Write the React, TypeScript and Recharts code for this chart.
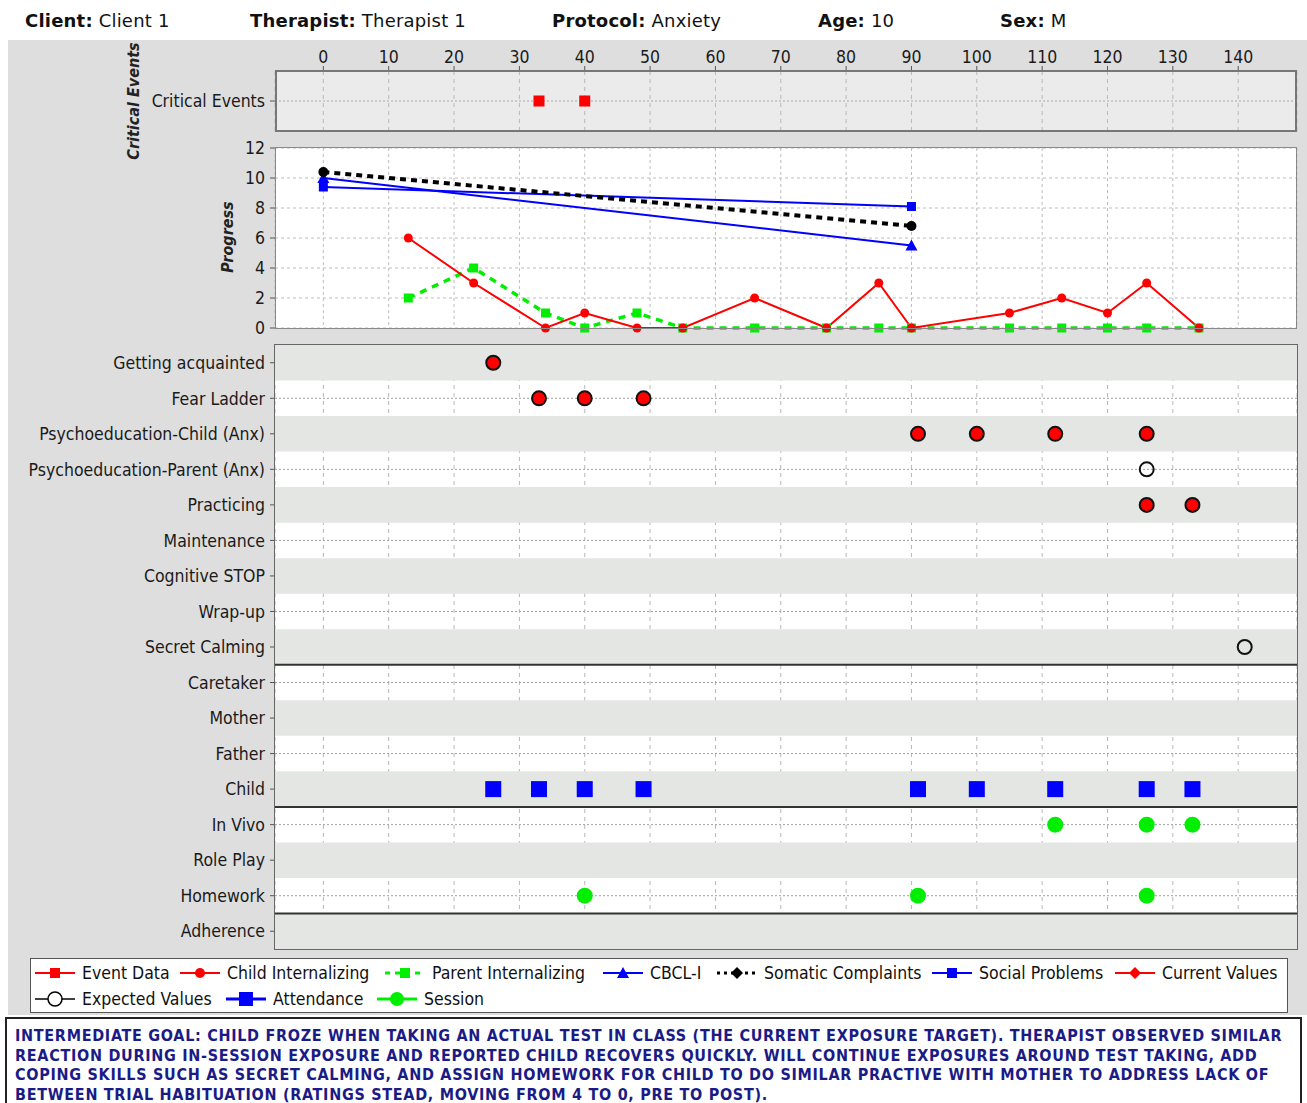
import React from 'react'
import { ScatterChart, Scatter, ComposedChart, Line, XAxis, YAxis, CartesianGrid, ReferenceArea, ReferenceLine } from 'recharts'

const FONT = '"DejaVu Sans Condensed", "DejaVu Sans", sans-serif'
const HEAD_FONT = '"DejaVu Sans", Verdana, sans-serif'

const X_TICKS = [0, 10, 20, 30, 40, 50, 60, 70, 80, 90, 100, 110, 120, 130, 140]
const X_DOMAIN = [-7.4, 149]

// critical events (day)
const CRITICAL_DAYS = [33, 40]

// progress measures
const SESSION_DAYS = [13, 23, 34, 40, 48, 55, 66, 77, 85, 90, 105, 113, 120, 126, 134]
const CHILD_INT = [6, 3, 0, 1, 0, 0, 2, 0, 3, 0, 1, 2, 1, 3, 0]
const PARENT_INT = [2, 4, 1, 0, 1, 0, 0, 0, 0, 0, 0, 0, 0, 0, 0]
const CBCL_DAYS = [0, 90]
const CBCL_I = [10, 5.5]
const SOMATIC = [10.4, 6.8]
const SOCIAL = [9.4, 8.1]
const PROGRESS_TICKS = [0, 2, 4, 6, 8, 10, 12]

// module / attendance / session rows
const ROWS = [
  'Getting acquainted', 'Fear Ladder', 'Psychoeducation-Child (Anx)', 'Psychoeducation-Parent (Anx)',
  'Practicing', 'Maintenance', 'Cognitive STOP', 'Wrap-up', 'Secret Calming',
  'Caretaker', 'Mother', 'Father', 'Child',
  'In Vivo', 'Role Play', 'Homework',
  'Adherence',
]
const SHADED_ROWS = [0, 2, 4, 6, 8, 10, 12, 14, 16]
const GROUP_BREAKS = [8.5, 12.5, 15.5]

const CURRENT_DAYS = [26, 33, 40, 49, 91, 100, 112, 126, 126, 133]
const CURRENT_ROWS = ['Getting acquainted', 'Fear Ladder', 'Fear Ladder', 'Fear Ladder',
  'Psychoeducation-Child (Anx)', 'Psychoeducation-Child (Anx)', 'Psychoeducation-Child (Anx)', 'Psychoeducation-Child (Anx)',
  'Practicing', 'Practicing']
const EXPECTED_DAYS = [126, 141]
const EXPECTED_ROWS = ['Psychoeducation-Parent (Anx)', 'Secret Calming']
const ATTEND_DAYS = [26, 33, 40, 49, 91, 100, 112, 126, 133]
const SESSION_MARK_DAYS = [112, 126, 133, 40, 91, 126]
const SESSION_MARK_ROWS = ['In Vivo', 'In Vivo', 'In Vivo', 'Homework', 'Homework', 'Homework']

const pts = (xs: number[], ys: number[]) => xs.map((x, i) => ({ x, y: ys[i] }))
const rowPts = (xs: number[], rows: string[]) => xs.map((x, i) => ({ x, y: ROWS.indexOf(rows[i]) }))

const RED = '#ff0000'
const GREEN = '#00ee00'
const BLUE = '#0000ff'

const tickStyle = { fontSize: 17.5, fill: '#1a1a1a', fontFamily: FONT }

const sq = (size: number, fill: string) => (p: any) =>
  <rect key={p.index} x={p.cx - size / 2} y={p.cy - size / 2} width={size} height={size} fill={fill} />
const circ = (r: number, fill: string, stroke?: string, sw = 1.5) => (p: any) =>
  <circle key={p.index} cx={p.cx} cy={p.cy} r={r} fill={fill} stroke={stroke || 'none'} strokeWidth={sw} />
const tri = (p: any) =>
  <polygon key={p.index} points={`${p.cx},${p.cy - 6} ${p.cx - 6},${p.cy + 5} ${p.cx + 6},${p.cy + 5}`} fill={BLUE} />

function Border({ left, top, width, height, color = '#808080', w = 1 }: any) {
  return <div style={{ position: 'absolute', left, top, width, height, border: `${w}px solid ${color}`, boxSizing: 'border-box', pointerEvents: 'none' }} />
}

function LegendIcon({ kind }: { kind: string }) {
  const line = (stroke: string, dash?: string, w = 2) =>
    <line x1={1} y1={10} x2={41} y2={10} stroke={stroke} strokeWidth={w} strokeDasharray={dash} />
  let body: React.ReactNode = null
  if (kind === 'event') body = <>{line(RED)}<rect x={16} y={5} width={10} height={10} fill={RED} /></>
  if (kind === 'child') body = <>{line(RED)}<circle cx={21} cy={10} r={5} fill={RED} /></>
  if (kind === 'parent') body = <>{line(GREEN, '5 5', 3)}<rect x={16} y={5} width={10} height={10} fill={GREEN} /></>
  if (kind === 'cbcl') body = <>{line(BLUE)}<polygon points="21,4 15,15 27,15" fill={BLUE} /></>
  if (kind === 'somatic') body = <>{line('#000', '3 4', 3)}<polygon points="21,4 27,10 21,16 15,10" fill="#000" /></>
  if (kind === 'social') body = <>{line(BLUE)}<rect x={16} y={5} width={10} height={10} fill={BLUE} /></>
  if (kind === 'current') body = <>{line(RED)}<polygon points="21,4 27,10 21,16 15,10" fill={RED} /></>
  if (kind === 'expected') body = <>{line('#000', undefined, 1.5)}<circle cx={21} cy={10} r={7} fill="#fff" stroke="#000" strokeWidth={1.5} /></>
  if (kind === 'attend') body = <>{line(BLUE, undefined, 3)}<rect x={14} y={3} width={14} height={14} fill={BLUE} /></>
  if (kind === 'session') body = <>{line(GREEN, undefined, 3)}<circle cx={21} cy={10} r={7} fill={GREEN} /></>
  return <svg width={42} height={20} style={{ position: 'absolute', left: 0, top: 0 }}>{body}</svg>
}

const LEGEND_ITEMS = [
  { label: 'Event Data', kind: 'event', left: 34, top: 963 },
  { label: 'Child Internalizing', kind: 'child', left: 179, top: 963 },
  { label: 'Parent Internalizing', kind: 'parent', left: 384, top: 963 },
  { label: 'CBCL-I', kind: 'cbcl', left: 602, top: 963 },
  { label: 'Somatic Complaints', kind: 'somatic', left: 716, top: 963 },
  { label: 'Social Problems', kind: 'social', left: 931, top: 963 },
  { label: 'Current Values', kind: 'current', left: 1114, top: 963 },
  { label: 'Expected Values', kind: 'expected', left: 34, top: 989 },
  { label: 'Attendance', kind: 'attend', left: 225, top: 989 },
  { label: 'Session', kind: 'session', left: 376, top: 989 },
]

const HEADER = [
  { k: 'Client:', v: 'Client 1', left: 25 },
  { k: 'Therapist:', v: 'Therapist 1', left: 250 },
  { k: 'Protocol:', v: 'Anxiety', left: 552 },
  { k: 'Age:', v: '10', left: 818 },
  { k: 'Sex:', v: 'M', left: 1000 },
]

const NOTE = [
  'INTERMEDIATE GOAL: CHILD FROZE WHEN TAKING AN ACTUAL TEST IN CLASS (THE CURRENT EXPOSURE TARGET). THERAPIST OBSERVED SIMILAR',
  'REACTION DURING IN-SESSION EXPOSURE AND REPORTED CHILD RECOVERS QUICKLY. WILL CONTINUE EXPOSURES AROUND TEST TAKING, ADD',
  'COPING SKILLS SUCH AS SECRET CALMING, AND ASSIGN HOMEWORK FOR CHILD TO DO SIMILAR PRACTIVE WITH MOTHER TO ADDRESS LACK OF',
  'BETWEEN TRIAL HABITUATION (RATINGS STEAD, MOVING FROM 4 TO 0, PRE TO POST).',
]

export default function App() {
  const W = 1307
  const rotLabel = { position: 'absolute' as const, width: 140, height: 22, transform: 'rotate(-90deg)', textAlign: 'center' as const, fontWeight: 'bold', fontStyle: 'italic', fontSize: 16, color: '#222', lineHeight: '22px', whiteSpace: 'nowrap' as const }
  return (
    <div style={{ position: 'relative', width: W, height: 1103, background: '#fff', fontFamily: FONT, overflow: 'hidden' }}>
      <style>{'body{margin:0}'}</style>

      {HEADER.map(h => (
        <div key={h.k} style={{ position: 'absolute', left: h.left, top: 10, fontFamily: HEAD_FONT, fontSize: 18, letterSpacing: 0.2, color: '#111', whiteSpace: 'nowrap' }}>
          <b>{h.k}</b> {h.v}
        </div>
      ))}

      <div style={{ position: 'absolute', left: 8, top: 40, width: W - 8, height: 975, background: '#dedede', overflow: 'hidden' }}>
        <div style={{ ...rotLabel, left: 126 - 70, top: 61 - 11 }}>Critical Events</div>
        <div style={{ ...rotLabel, left: 220 - 70, top: 197 - 11 }}>Progress</div>
      </div>

      {/* critical events */}
      <div style={{ position: 'absolute', left: 0, top: 40 }}>
        <ScatterChart width={W} height={95} margin={{ top: 1, right: 10, bottom: 4, left: 0 }}>
          <CartesianGrid fill="#ebebeb" horizontal={false} stroke="#b8b8b8" strokeDasharray="4 4" />
          <CartesianGrid vertical={false} stroke="#a8a8a8" strokeDasharray="2 2" />
          <XAxis type="number" dataKey="x" orientation="top" height={30} domain={X_DOMAIN} ticks={X_TICKS} allowDataOverflow
            tick={tickStyle} tickSize={5} tickMargin={3} axisLine={false} tickLine={{ stroke: '#555' }} />
          <YAxis type="number" dataKey="y" width={275} domain={[0, 2]} ticks={[1]} tickFormatter={() => 'Critical Events'}
            tick={tickStyle} tickSize={5} tickMargin={5} axisLine={false} tickLine={{ stroke: '#555' }} />
          <Scatter data={CRITICAL_DAYS.map(x => ({ x, y: 1 }))} isAnimationActive={false} shape={sq(11, RED)} />
        </ScatterChart>
      </div>
      <Border left={275} top={70} width={1022} height={62} color="#777" w={2} />

      {/* progress */}
      <div style={{ position: 'absolute', left: 0, top: 135 }}>
        <ComposedChart width={W} height={215} margin={{ top: 13, right: 10, bottom: 22, left: 0 }}>
          <CartesianGrid fill="#fff" stroke="#bdbdbd" strokeDasharray="3 3" />
          <XAxis type="number" dataKey="x" domain={X_DOMAIN} ticks={X_TICKS} allowDataOverflow hide />
          <YAxis type="number" width={275} domain={[0, 12]} ticks={PROGRESS_TICKS} interval={0}
            tick={tickStyle} tickSize={5} tickMargin={5} axisLine={false} tickLine={{ stroke: '#555' }} />
          <Line data={pts(CBCL_DAYS, CBCL_I)} dataKey="y" stroke={BLUE} strokeWidth={2} dot={tri} isAnimationActive={false} />
          <Line data={pts(CBCL_DAYS, SOCIAL)} dataKey="y" stroke={BLUE} strokeWidth={2} dot={sq(9, BLUE)} isAnimationActive={false} />
          <Line data={pts(CBCL_DAYS, SOMATIC)} dataKey="y" stroke="#000" strokeWidth={4} strokeDasharray="6 5" dot={circ(5, '#000')} isAnimationActive={false} />
          <Line data={pts(SESSION_DAYS, PARENT_INT)} dataKey="y" stroke={GREEN} strokeWidth={3.5} strokeDasharray="7 6" dot={sq(9, GREEN)} isAnimationActive={false} />
          <Line data={pts(SESSION_DAYS, CHILD_INT)} dataKey="y" stroke={RED} strokeWidth={2} dot={circ(4.5, RED)} isAnimationActive={false} />
        </ComposedChart>
      </div>
      <Border left={275} top={147} width={1022} height={182} color="#888" />

      {/* modules, attendance, sessions */}
      <div style={{ position: 'absolute', left: 0, top: 335 }}>
        <ScatterChart width={W} height={620} margin={{ top: 10, right: 10, bottom: 6, left: 0 }}>
          <CartesianGrid fill="#fff" horizontal={false} vertical={false} />
          {SHADED_ROWS.map(r => (
            <ReferenceArea key={r} y1={r - 0.5} y2={r + 0.5} fill="#e4e6e4" fillOpacity={1} stroke="none" ifOverflow="hidden" />
          ))}
          <CartesianGrid horizontal={false} stroke="#b8b8b8" strokeDasharray="4 4" />
          <CartesianGrid vertical={false} stroke="#a0a0a0" strokeDasharray="2 2" />
          <XAxis type="number" dataKey="x" domain={X_DOMAIN} ticks={X_TICKS} allowDataOverflow hide />
          <YAxis type="number" dataKey="y" width={275} reversed domain={[-0.5, 16.5]} ticks={ROWS.map((_, i) => i)} interval={0}
            tickFormatter={(v: number) => ROWS[v] ?? ''} tick={tickStyle} tickSize={5} tickMargin={5}
            axisLine={false} tickLine={{ stroke: '#555' }} />
          {GROUP_BREAKS.map(b => <ReferenceLine key={b} y={b} stroke="#333" strokeWidth={2} />)}
          <Scatter data={rowPts(CURRENT_DAYS, CURRENT_ROWS)} isAnimationActive={false} shape={circ(7, RED, '#111', 2)} />
          <Scatter data={rowPts(EXPECTED_DAYS, EXPECTED_ROWS)} isAnimationActive={false} shape={circ(7, 'none', '#111', 2)} />
          <Scatter data={ATTEND_DAYS.map(x => ({ x, y: ROWS.indexOf('Child') }))} isAnimationActive={false} shape={sq(16, BLUE)} />
          <Scatter data={rowPts(SESSION_MARK_DAYS, SESSION_MARK_ROWS)} isAnimationActive={false} shape={circ(8, GREEN)} />
        </ScatterChart>
      </div>
      <Border left={274} top={344} width={1024} height={606} color="#666" w={1.5} />

      {/* legend */}
      <div style={{ position: 'absolute', left: 30, top: 958, width: 1258, height: 55, background: '#fff', border: '1.5px solid #555', boxSizing: 'border-box' }} />
      {LEGEND_ITEMS.map(it => (
        <div key={it.label} style={{ position: 'absolute', left: it.left, top: it.top, height: 20, paddingLeft: 48, fontSize: 17.5, lineHeight: '20px', color: '#111', whiteSpace: 'nowrap' }}>
          <LegendIcon kind={it.kind} />
          {it.label}
        </div>
      ))}

      {/* note */}
      <div style={{ position: 'absolute', left: 5, top: 1017, width: 1297, height: 100, border: '2px solid #222', boxSizing: 'border-box', padding: '7px 0 0 8px' }}>
        {NOTE.map((l, i) => (
          <div key={i} style={{ fontWeight: 'bold', fontSize: 16, letterSpacing: 0.7, lineHeight: '19.5px', color: '#1b1b86', whiteSpace: 'nowrap' }}>{l}</div>
        ))}
      </div>
    </div>
  )
}
